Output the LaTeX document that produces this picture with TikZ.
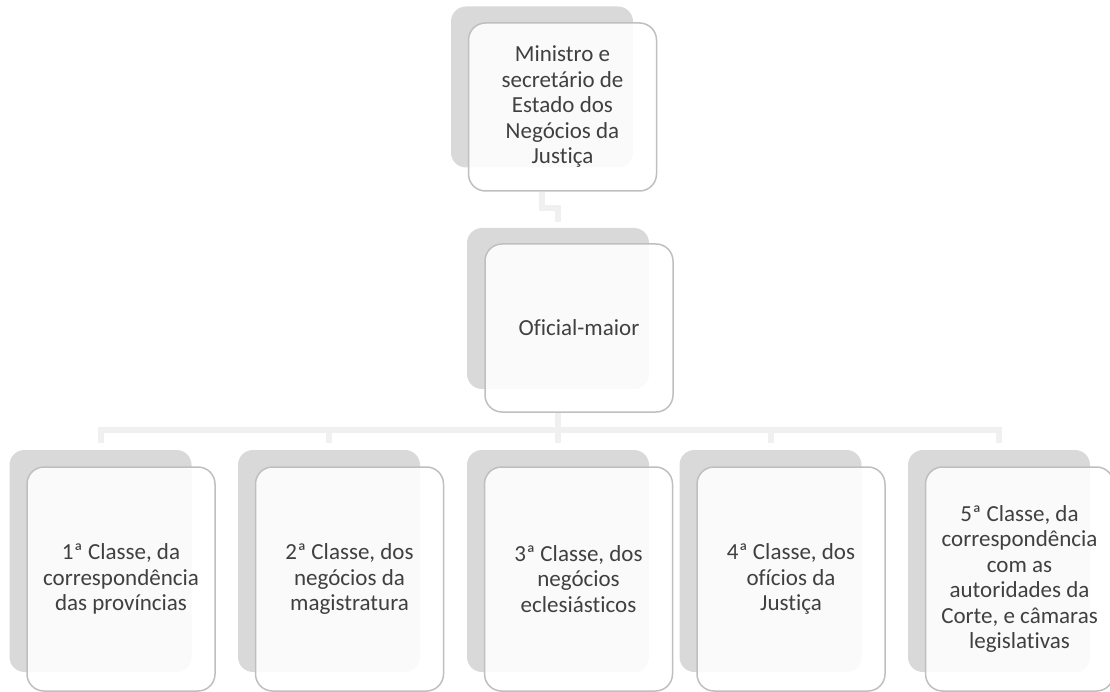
\documentclass[tikz,border=0pt]{standalone}
\usepackage{fontspec}
\setmainfont{Carlito}[Ligatures=NoCommon]
\usepackage{xcolor}
\usepackage{tikz}

\definecolor{cardgray}{HTML}{D9D9D9}
\definecolor{cardedge}{HTML}{BFBFBF}
\definecolor{wiregray}{HTML}{F0F0F0}
\definecolor{inkgray}{HTML}{404040}

\tikzset{
  backcard/.style={fill=cardgray, rounded corners=15pt, inner sep=0pt,
    minimum width=182pt, minimum height=161pt},
  frontcard/.style={fill=white, fill opacity=0.88, text opacity=1,
    draw=cardedge, line width=1.5pt, rounded corners=17pt, inner sep=0pt,
    minimum width=188pt, minimum height=168pt, align=center, text=inkgray,
    font=\fontsize{23}{25.5}\selectfont},
  tallcard/.style={minimum height=224pt},
  link/.style={draw=wiregray, line width=6pt},
}

\begin{document}
\begin{tikzpicture}[x=1pt, y=-1pt]
	\useasboundingbox (0,0) rectangle (1110,692);
	\node[backcard] (min-s) at (542,87) {};
	\node[frontcard] (min) at (562.5,107) {Ministro e\\secretário de\\Estado dos\\Negócios da\\Justiça};
	\node[backcard] (ofm-s) at (558,308.5) {};
	\node[frontcard] (ofm) at (579,328) {Oficial-maior};
	\foreach \x/\n/\t in {100.5/1/{1ª Classe, da\\correspondência\\das províncias},
	    329/2/{2ª Classe, dos\\negócios da\\magistratura},
	    558/3/{3ª Classe, dos\\negócios\\eclesiásticos},
	    770.5/4/{4ª Classe, dos\\ofícios da\\Justiça},
	    999/5/{5ª Classe, da\\correspondência\\com as\\autoridades da\\Corte, e câmaras\\legislativas}}
	{
	  \node[backcard, minimum height=222pt] (cls\n-s) at (\x,561) {};
	  \node[frontcard, tallcard] (cls\n) at (\x+20.5,579) {\t};
	}
	\coordinate (bus) at (558,430);
	\draw[link] (min.south -| min-s) -- ++(0,16) -| ([yshift=6pt]ofm-s.north);
	\draw[link] (ofm.south -| ofm-s) -- ([yshift=7pt]cls3-s.north);
	\draw[link] ([yshift=7pt]cls1-s.north) |- (bus) -| ([yshift=7pt]cls5-s.north);
	\foreach \n in {2,4}
	  \draw[link] (cls\n-s.north |- bus) -- ([yshift=7pt]cls\n-s.north);
\end{tikzpicture}
\end{document}
